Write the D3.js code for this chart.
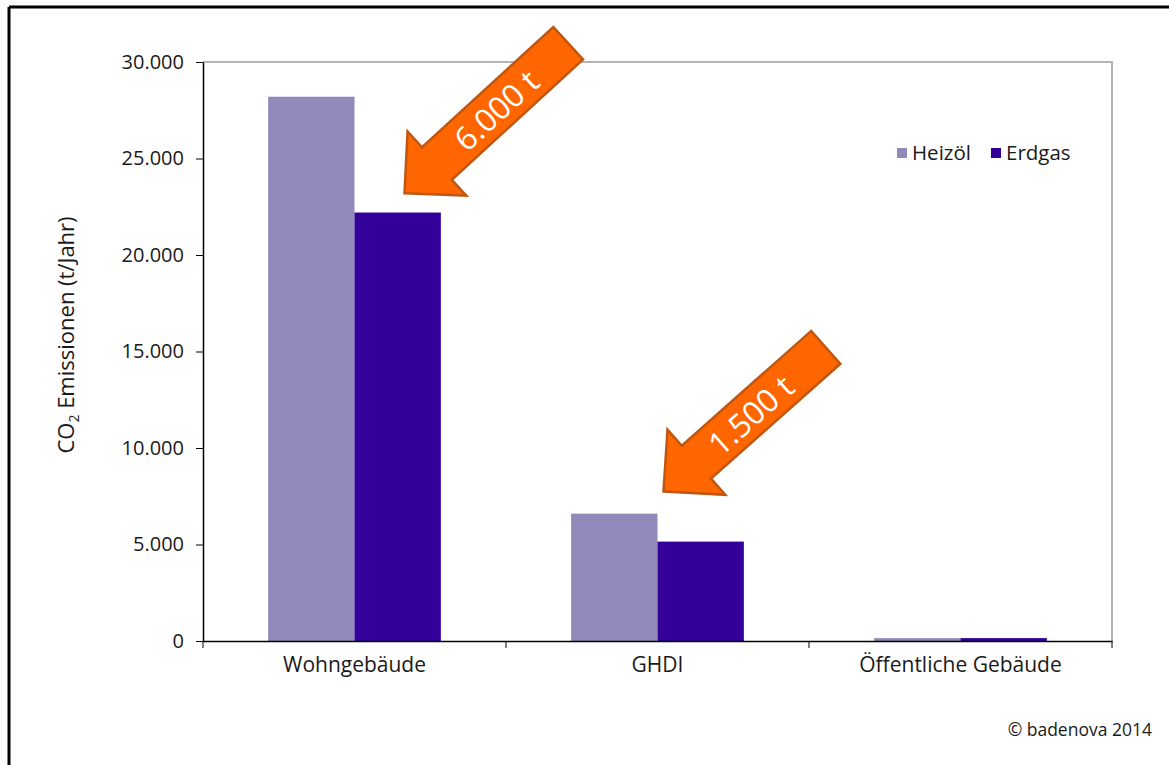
<!DOCTYPE html>
<html>
<head>
<meta charset="utf-8">
<script src="https://cdn.jsdelivr.net/npm/d3@7"></script>
<style>
  body { margin: 0; background: #fff; }
  text { font-family: "Open Sans", Lato, sans-serif; fill: #1a1a1a; }
</style>
</head>
<body>
<svg id="chart" width="1169" height="765"></svg>
<script>
// CO2 emissions by building type, Heizöl vs Erdgas
var categories = ["Wohngebäude", "GHDI", "Öffentliche Gebäude"];
var series = ["Heizöl", "Erdgas"];
var heizoel = [28200, 6600, 150];
var erdgas = [22200, 5150, 150];
var yTicks = [0, 5000, 10000, 15000, 20000, 25000, 30000];
var colors = ["#9089BA", "#330099"];

// arrows: label, category they point at, value near tip
var annoLabels = ["6.000 t", "1.500 t"];
var annoCats = ["Wohngebäude", "GHDI"];
var annoValues = [23200, 7750];

var cfg = {
	left: 203, right: 1112, top: 62, bottom: 641
};

var svg = d3.select("#chart");

// outer frame (top and left edge)
svg.append("line").attr("x1", 9).attr("x2", 1169).attr("y1", 7).attr("y2", 7)
	.attr("stroke", "#000").attr("stroke-width", 3);
svg.append("line").attr("x1", 9).attr("x2", 9).attr("y1", 7).attr("y2", 765)
	.attr("stroke", "#000").attr("stroke-width", 3);

var x0 = d3.scaleBand()
	.domain(categories)
	.range([cfg.left, cfg.right])
	.paddingInner(0.43)
	.paddingOuter(0.215);

var x1 = d3.scaleBand()
	.domain(series)
	.range([0, x0.bandwidth()]);

var y = d3.scaleLinear()
	.domain([0, 30000])
	.range([cfg.bottom, cfg.top]);

var de = d3.formatLocale({ decimal: ",", thousands: ".", grouping: [3], currency: ["", "€"] });
var fmt = de.format(",d");

// plot border top + right
svg.append("path")
	.attr("d", "M" + cfg.left + "," + cfg.top + "H" + cfg.right + "V" + cfg.bottom)
	.attr("fill", "none").attr("stroke", "#b3b3b3").attr("stroke-width", 2);

// bars
var rows = categories.map(function(c, i) {
	return { cat: c, vals: [heizoel[i], erdgas[i]] };
});

var grp = svg.selectAll("g.cat")
	.data(rows)
	.enter().append("g")
	.attr("class", "cat")
	.attr("transform", function(d) { return "translate(" + x0(d.cat) + ",0)"; });

grp.selectAll("rect")
	.data(function(d) { return d.vals.map(function(v, j) { return { s: series[j], v: v, j: j }; }); })
	.enter().append("rect")
	.attr("x", function(d) { return x1(d.s); })
	.attr("width", x1.bandwidth())
	.attr("y", function(d) { return y(d.v); })
	.attr("height", function(d) { return y(0) - y(d.v); })
	.attr("fill", function(d) { return colors[d.j]; });

// y axis
var yAxis = svg.append("g")
	.attr("transform", "translate(" + cfg.left + ",0)")
	.call(d3.axisLeft(y).tickValues(yTicks).tickFormat(fmt).tickSize(7).tickSizeOuter(0));
yAxis.select(".domain").attr("stroke", "#000").attr("stroke-width", 1.5);
yAxis.selectAll(".tick line").attr("stroke", "#000");
yAxis.selectAll(".tick text")
	.attr("x", -19)
	.style("font-size", "20px")
	.style("font-family", "'Open Sans', sans-serif")
	.attr("fill", "#1a1a1a");

// x axis
var xAxis = svg.append("g")
	.attr("transform", "translate(0," + cfg.bottom + ")")
	.call(d3.axisBottom(x0).tickSize(0).tickSizeOuter(0));
xAxis.select(".domain").attr("stroke", "#000").attr("stroke-width", 1.5);
xAxis.selectAll(".tick text")
	.attr("y", 16)
	.style("font-size", "21px")
	.style("font-family", "'Open Sans', sans-serif")
	.attr("fill", "#1a1a1a");

// category separators on x axis
var seps = d3.range(categories.length + 1).map(function(i) { return cfg.left + i * x0.step(); });
svg.selectAll("line.sep")
	.data(seps)
	.enter().append("line")
	.attr("class", "sep")
	.attr("x1", function(d) { return d; })
	.attr("x2", function(d) { return d; })
	.attr("y1", cfg.bottom)
	.attr("y2", cfg.bottom + 7)
	.attr("stroke", "#000");

// y axis title
var yt = svg.append("text")
	.attr("transform", "translate(74,335) rotate(-90)")
	.attr("text-anchor", "middle")
	.style("font-size", "22px");
yt.append("tspan").text("CO");
yt.append("tspan").attr("dy", 5).style("font-size", "14px").text("2");
yt.append("tspan").attr("dy", -5).text(" Emissionen (t/Jahr)");

// legend
var leg = svg.append("g").attr("transform", "translate(897,148)");
series.forEach(function(s, i) {
	var g = leg.append("g").attr("transform", "translate(" + (i * 94) + ",0)");
	g.append("rect").attr("width", 10).attr("height", 10).attr("fill", colors[i]);
	g.append("text").attr("x", 15).attr("y", 12).style("font-size", "20.5px").text(s);
});

// arrows
var arrowLen = [222, 217];
var arrowAng = [137.5, 138.4];
var head = 44, headW = 43.5, shaftW = 22;

annoLabels.forEach(function(lbl, i) {
	var L = arrowLen[i];
	var tipX = x0(annoCats[i]) + x1("Erdgas") + (i === 0 ? 50 : 6);
	var tipY = y(annoValues[i]);
	var pts = [[0, 0], [-head, -headW], [-head, -shaftW], [-L, -shaftW],
		[-L, shaftW], [-head, shaftW], [-head, headW]];
	var g = svg.append("g")
		.attr("transform", "translate(" + tipX + "," + tipY + ") rotate(" + arrowAng[i] + ")");
	g.append("path")
		.attr("d", "M" + pts.join("L") + "Z")
		.attr("fill", "#FF6600")
		.attr("stroke", "#C0560F")
		.attr("stroke-width", 2.5)
		.attr("stroke-linejoin", "miter");
	g.append("text")
		.attr("transform", "translate(" + (i === 0 ? -124 : -116) + ",0) rotate(180)")
		.attr("text-anchor", "middle")
		.attr("dominant-baseline", "central")
		.style("font-size", "32px")
		.style("fill", "#fff")
		.text(lbl);
});

// source note
svg.append("text")
	.attr("x", 1152)
	.attr("y", 736)
	.attr("text-anchor", "end")
	.style("font-size", "17.5px")
	.text("© badenova 2014");
</script>
</body>
</html>
